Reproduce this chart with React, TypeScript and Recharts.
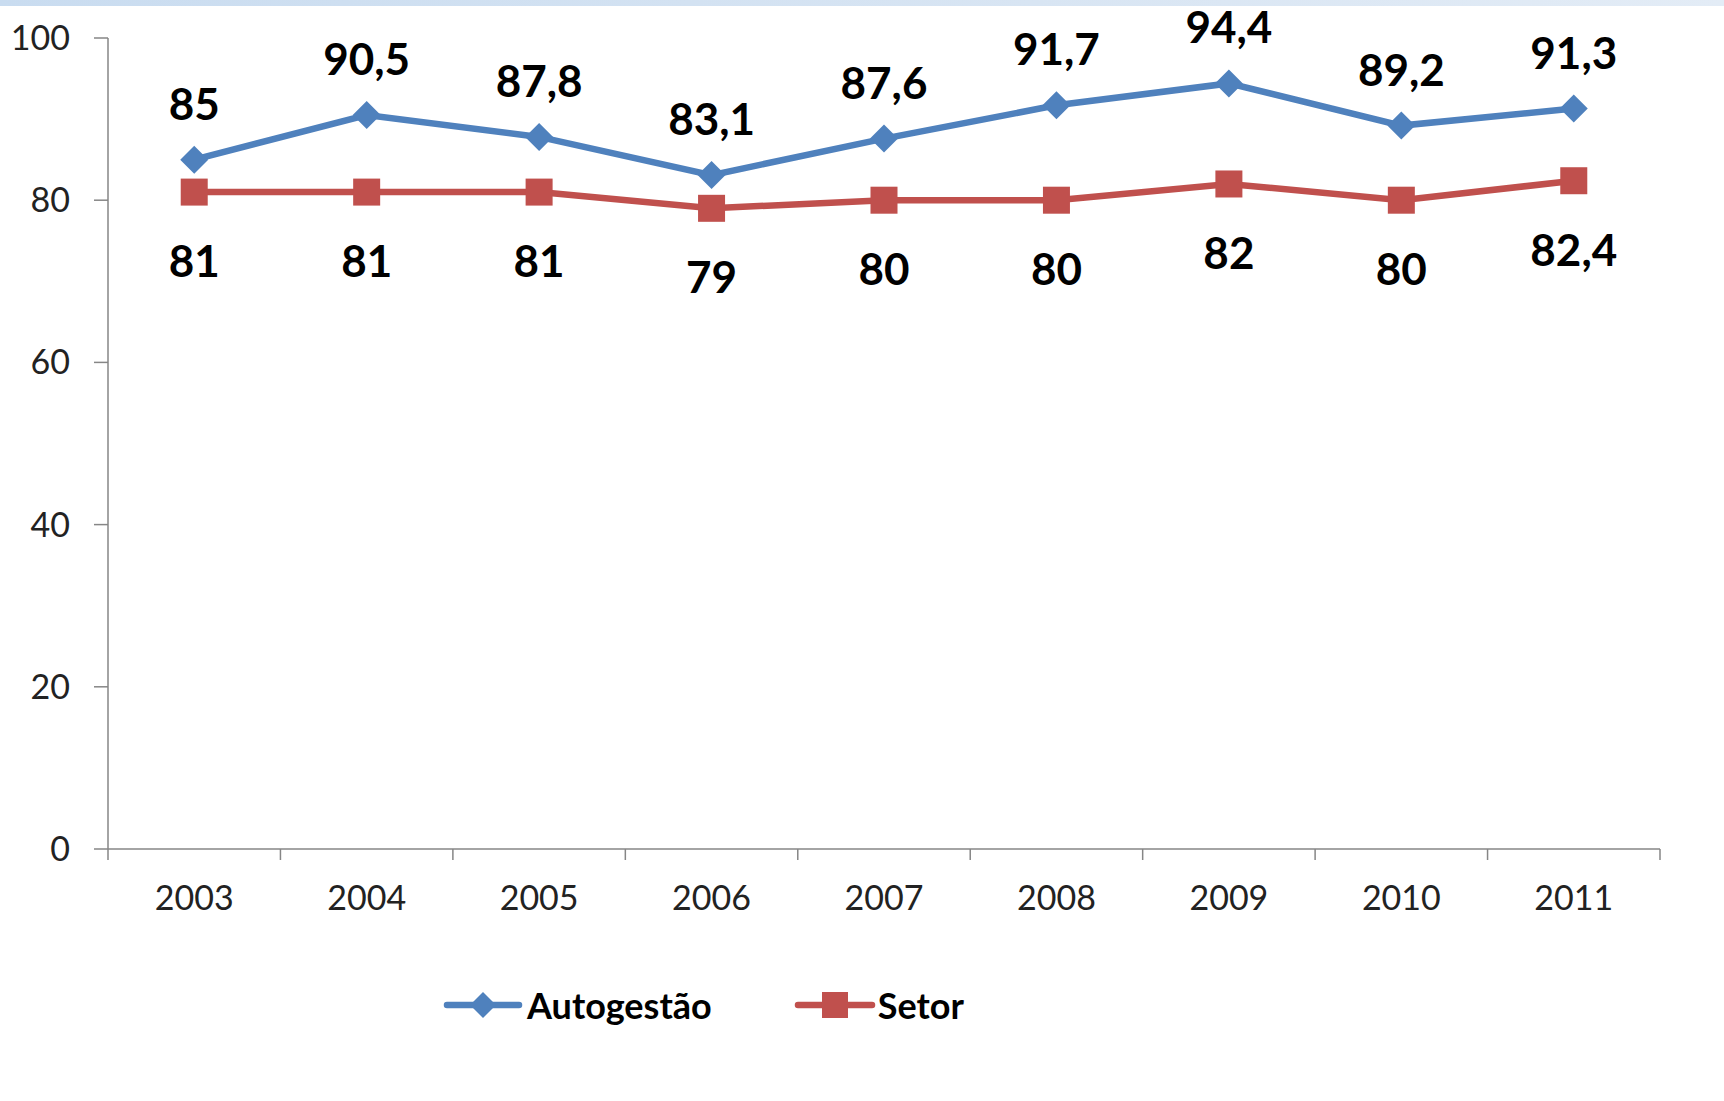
import React from 'react'
import { LineChart, Line, XAxis, YAxis, Legend, LabelList } from 'recharts'

const years = ['2003', '2004', '2005', '2006', '2007', '2008', '2009', '2010', '2011']
const autogestao = [85, 90.5, 87.8, 83.1, 87.6, 91.7, 94.4, 89.2, 91.3]
const setor = [81, 81, 81, 79, 80, 80, 82, 80, 82.4]
const yTicks = [0, 20, 40, 60, 80, 100]

const chartData = years.map((year, i) => ({
  year,
  autogestao: autogestao[i],
  setor: setor[i],
}))

const BLUE = '#4F81BD'
const RED = '#C0504D'
const AXIS = '#868686'
const FONT = 'Lato, "Open Sans", sans-serif'

const W = 1724
const H = 1101
const margin = { top: 38, right: 64, bottom: 152, left: 0 }
const Y_WIDTH = 108
const BAND = (W - margin.right - Y_WIDTH) / years.length

const fmt = (v: number) => String(v).replace('.', ',')

const YearTick = (props: any) => {
  const { x, y, payload } = props
  const idx = props.index ?? payload.index
  const half = BAND / 2
  return (
    <g>
      <line x1={x - half} y1={y} x2={x - half} y2={y + 11} stroke={AXIS} strokeWidth={1.5} />
      {idx === years.length - 1 && (
        <line x1={x + half} y1={y} x2={x + half} y2={y + 11} stroke={AXIS} strokeWidth={1.5} />
      )}
      <text
        x={x}
        y={y + 47}
        textAnchor="middle"
        dominantBaseline="central"
        fontFamily={FONT}
        fontSize={34}
        fill="#222"
      >
        {payload.value}
      </text>
    </g>
  )
}

const Diamond = (p: any) => {
  const { cx, cy, index } = p
  const r = 14
  return (
    <path
      key={`dia-${index}`}
      d={`M${cx},${cy - r} L${cx + r},${cy} L${cx},${cy + r} L${cx - r},${cy} Z`}
      fill={BLUE}
    />
  )
}

const Square = (p: any) => {
  const { cx, cy, index } = p
  const s = 13.5
  return <rect key={`sq-${index}`} x={cx - s} y={cy - s} width={s * 2} height={s * 2} fill={RED} />
}

const labelAbove = (props: any) => {
  const { x, y, value, index } = props
  return (
    <text
      key={`la-${index}`}
      x={x}
      y={y - 57}
      textAnchor="middle"
      dominantBaseline="central"
      fontFamily={FONT}
      fontWeight={700}
      fontSize={44}
      fill="#000"
    >
      {fmt(value)}
    </text>
  )
}

const labelBelow = (props: any) => {
  const { x, y, value, index } = props
  return (
    <text
      key={`lb-${index}`}
      x={x}
      y={y + 68}
      textAnchor="middle"
      dominantBaseline="central"
      fontFamily={FONT}
      fontWeight={700}
      fontSize={44}
      fill="#000"
    >
      {fmt(value)}
    </text>
  )
}

const LegendContent = () => (
  <div style={{ display: 'flex', alignItems: 'center', fontFamily: FONT, fontWeight: 700, fontSize: 36 }}>
    <svg width={80} height={32}>
      <line x1={4} y1={16} x2={76} y2={16} stroke={BLUE} strokeWidth={6.5} strokeLinecap="round" />
      <path d="M40,3 L53,16 L40,29 L27,16 Z" fill={BLUE} />
    </svg>
    <span style={{ marginLeft: 4, marginRight: 82 }}>Autogestão</span>
    <svg width={82} height={32}>
      <line x1={4} y1={16} x2={78} y2={16} stroke={RED} strokeWidth={6.5} strokeLinecap="round" />
      <rect x={28} y={3} width={26} height={26} fill={RED} />
    </svg>
    <span style={{ marginLeft: 2 }}>Setor</span>
  </div>
)

export default function App() {
  return (
    <div style={{ position: 'absolute', top: 0, left: 0, width: W, height: H, background: '#fff' }}>
      <div
        style={{
          position: 'absolute',
          top: 0,
          left: 0,
          width: W,
          height: 6,
          background: 'linear-gradient(to right, #c9dcf0, #d8e5f3 60%, #e3ecf6)',
        }}
      />
      <LineChart width={W} height={H} data={chartData} margin={margin}>
        <XAxis
          dataKey="year"
          padding={{ left: BAND / 2, right: BAND / 2 }}
          tickLine={false}
          tickSize={0}
          tickMargin={0}
          height={100}
          interval={0}
          axisLine={{ stroke: AXIS, strokeWidth: 1.5 }}
          tick={<YearTick />}
        />
        <YAxis
          domain={[0, 100]}
          ticks={yTicks}
          width={Y_WIDTH}
          tickSize={14}
          tickMargin={24}
          axisLine={{ stroke: AXIS, strokeWidth: 1.5 }}
          tickLine={{ stroke: AXIS, strokeWidth: 1.5 }}
          tick={{ fontSize: 34, fill: '#222', fontFamily: FONT }}
        />
        <Legend
          layout="horizontal"
          verticalAlign="middle"
          align="center"
          wrapperStyle={{ top: 983, left: 443, width: 'auto' }}
          content={<LegendContent />}
        />
        <Line
          dataKey="autogestao"
          name="Autogestão"
          stroke={BLUE}
          strokeWidth={6.5}
          dot={Diamond}
          activeDot={false}
          isAnimationActive={false}
        >
          <LabelList dataKey="autogestao" content={labelAbove} />
        </Line>
        <Line
          dataKey="setor"
          name="Setor"
          stroke={RED}
          strokeWidth={6.5}
          dot={Square}
          activeDot={false}
          isAnimationActive={false}
        >
          <LabelList dataKey="setor" content={labelBelow} />
        </Line>
      </LineChart>
    </div>
  )
}
